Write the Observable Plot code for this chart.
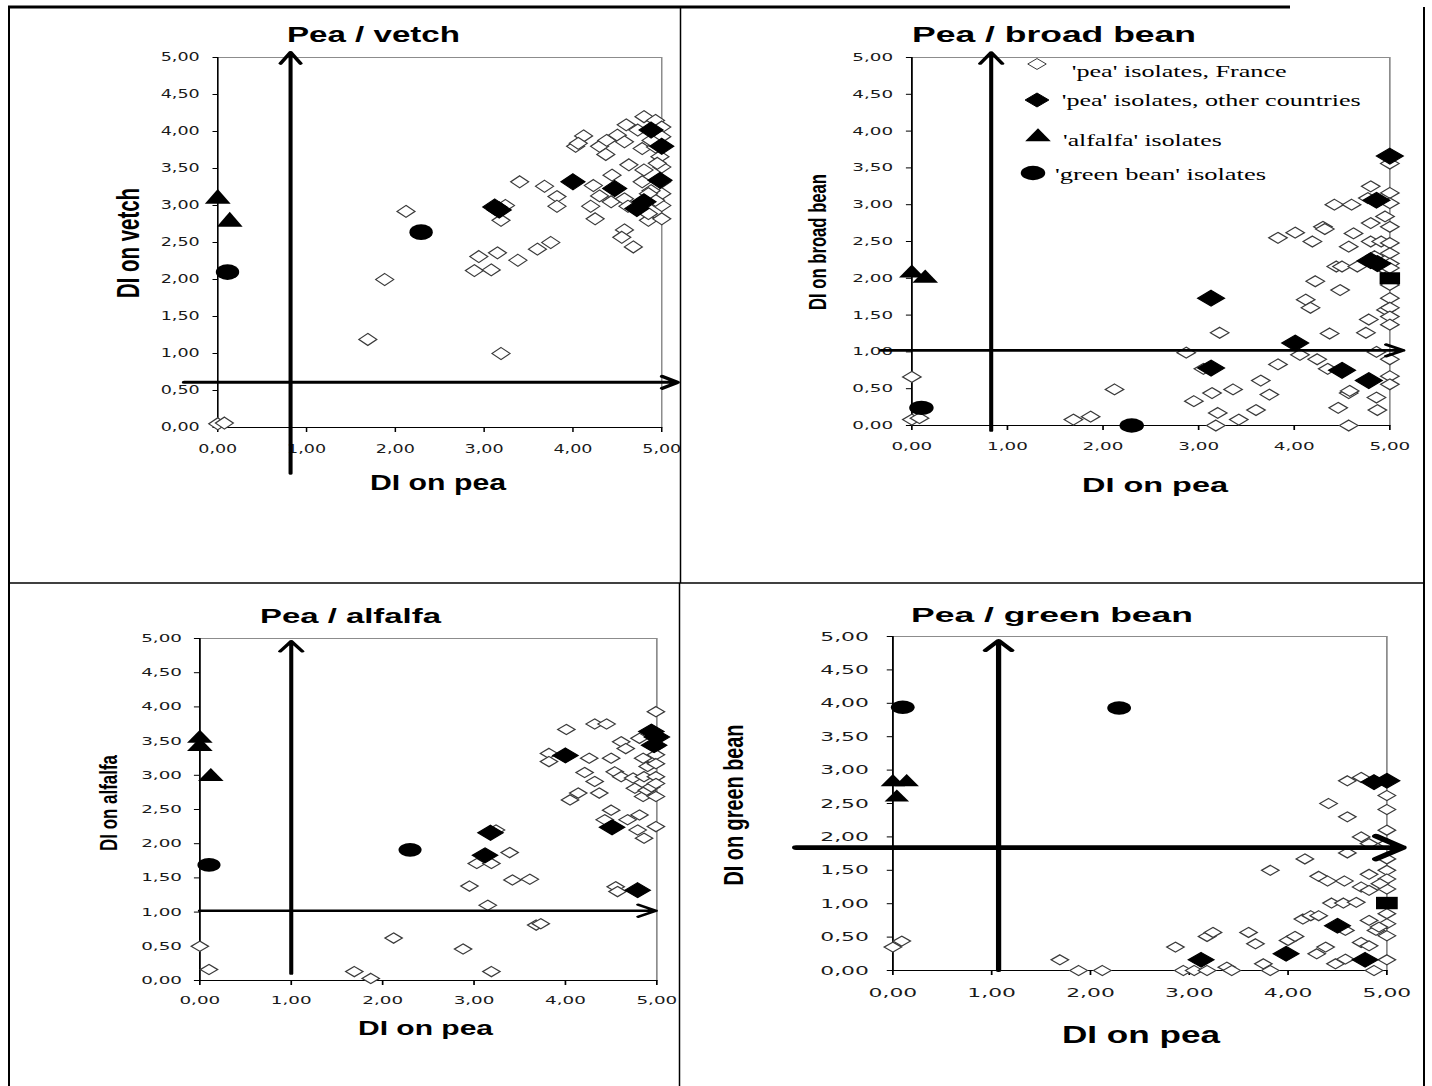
<!DOCTYPE html>
<html><head><meta charset="utf-8">
<script src="https://cdn.jsdelivr.net/npm/d3@7"></script>
<script src="https://cdn.jsdelivr.net/npm/@observablehq/plot@0.6"></script>
<style>
html,body{margin:0;padding:0;background:#fff;}
#page{position:relative;width:1432px;height:1086px;overflow:hidden;background:#fff;}
.quad{position:absolute;transform-origin:0 0;}
#overlay{position:absolute;left:0;top:0;pointer-events:none;}
</style></head><body><div id="page"></div>
<script>
// ---------- tick values and labels ----------
const xTicks = [0, 1, 2, 3, 4, 5];
const xTickLabels = ["0,00", "1,00", "2,00", "3,00", "4,00", "5,00"];
const yTicks = [0, 0.5, 1, 1.5, 2, 2.5, 3, 3.5, 4, 4.5, 5];
const yTickLabels = ["0,00", "0,50", "1,00", "1,50", "2,00", "2,50", "3,00", "3,50", "4,00", "4,50", "5,00"];

// ---------- texts ----------
const titles = ["Pea / vetch", "Pea / broad bean", "Pea / alfalfa", "Pea / green bean"];
const yLabels = ["DI on vetch", "DI on broad bean", "DI on alfalfa", "DI on green bean"];
const xLabel = "DI on pea";
const legendLabels = ["'pea' isolates, France", "'pea' isolates, other countries", "'alfalfa' isolates", "'green bean' isolates"];

// ---------- Panel 1: pea / vetch  [DI on pea, DI on vetch] ----------
const vetchFrance = [[0,0.05],[0.075,0.06],[1.69,1.19],[3.19,1.0],[1.88,2.0],[2.12,2.92],[2.89,2.12],[2.94,2.31],[3.08,2.13],[3.15,2.36],[3.38,2.26],[3.6,2.41],[3.75,2.5],[3.19,2.8],[3.24,3.0],[3.4,3.32],[3.68,3.26],[3.82,3.12],[3.82,2.99],[4.03,3.8],[4.12,3.94],[4.06,3.84],[4.2,2.99],[4.25,2.82],[4.23,3.27],[4.3,3.8],[4.38,3.88],[4.37,3.69],[4.3,3.13],[4.44,3.41],[4.43,3.05],[4.5,3.95],[4.58,3.86],[4.6,4.09],[4.63,3.55],[4.58,3.09],[4.62,2.99],[4.58,2.67],[4.55,2.57],[4.68,2.44],[4.73,4.02],[4.8,4.2],[4.78,3.77],[4.8,3.48],[4.78,3.32],[4.85,2.8],[4.85,2.89],[4.93,4.15],[5,4.06],[5,3.93],[4.98,3.66],[5,3.52],[5,3.32],[5,3.16],[5,3.0],[5,2.82],[4.93,3.07],[4.88,3.2],[4.95,3.57],[4.93,3.79],[4.88,3.88],[5,3.79],[4.85,3.16]];
const vetchOther = [[3.12,2.98],[3.17,2.94],[4.0,3.32],[4.47,3.23],[4.72,2.96],[4.8,3.05],[4.88,4.02],[5.0,3.8],[4.98,3.34]];
const vetchSquare = [];
const vetchAlfalfa = [[0,3.09],[0.135,2.78]];
const vetchGreen = [[0.11,2.10],[2.29,2.64]];
const vetchArrows = [[0.82,-0.62,0.82,5.07],[-0.38,0.61,5.18,0.61]];

// ---------- Panel 2: pea / broad bean ----------
const bbFrance = [[0,0.66],[0,0.08],[0.08,0.1],[1.69,0.08],[1.87,0.12],[2.12,0.49],[2.87,0.99],[2.95,0.33],[3.05,0.77],[3.14,0.44],[3.22,1.26],[3.2,0.17],[3.18,0],[3.36,0.49],[3.42,0.08],[3.6,0.21],[3.65,0.61],[3.74,0.42],[3.83,0.83],[3.83,2.55],[4.01,2.62],[4.06,0.96],[4.12,1.71],[4.17,1.6],[4.19,2.5],[4.22,1.96],[4.24,0.9],[4.3,2.7],[4.32,2.67],[4.37,1.25],[4.35,0.77],[4.42,3.0],[4.44,2.16],[4.48,1.84],[4.46,0.24],[4.5,2.16],[4.57,0],[4.57,0.44],[4.58,0.47],[4.6,3.0],[4.62,2.61],[4.66,2.16],[4.57,2.43],[4.75,1.26],[4.78,1.44],[4.8,3.25],[4.8,2.75],[4.8,2.5],[4.77,3.09],[4.86,0.38],[4.87,0.21],[4.86,1.0],[4.84,2.3],[4.91,2.5],[4.93,2.14],[4.95,2.84],[4.96,1.57],[5,3.56],[5,3.16],[5,3.02],[5,2.7],[5,2.48],[5,2.34],[5,2.2],[5,2.14],[5,1.91],[5,1.73],[5,1.6],[5,1.48],[5,1.37],[5,0.9],[5,0.67],[5,0.56]];
const bbOther = [[5,3.66],[4.86,3.06],[4.8,2.24],[4.87,2.2],[3.13,1.73],[4.01,1.12],[3.13,0.78],[4.5,0.75],[4.78,0.61]];
const bbSquare = [[5,2.0]];
const bbAlfalfa = [[0,2.07],[0.14,2.0]];
const bbGreen = [[0.1,0.24],[2.3,0]];
const bbArrows = [[0.83,-0.07,0.83,5.07],[-0.32,1.02,5.14,1.02]];

// ---------- Panel 3: pea / alfalfa ----------
const alFrance = [[0,0.5],[0.1,0.16],[1.69,0.13],[1.87,0.03],[2.12,0.62],[2.88,0.46],[2.95,1.38],[3.03,1.71],[3.19,1.71],[3.24,2.2],[3.15,1.1],[3.19,0.13],[3.39,1.87],[3.42,1.47],[3.61,1.48],[3.68,0.81],[3.73,0.83],[3.82,3.32],[3.82,3.2],[4.01,3.67],[4.05,2.64],[4.14,2.74],[4.21,3.04],[4.26,3.25],[4.32,3.75],[4.32,2.91],[4.37,2.74],[4.45,3.75],[4.5,3.25],[4.5,2.49],[4.54,3.05],[4.61,2.98],[4.43,2.35],[4.68,2.35],[4.61,3.49],[4.66,3.39],[4.74,2.96],[4.76,2.81],[4.81,2.42],[4.79,2.2],[4.86,2.08],[4.55,1.37],[4.57,1.3],[4.81,3.54],[4.85,3.25],[4.86,2.98],[4.85,2.69],[4.89,2.78],[4.9,3.13],[4.94,2.83],[4.99,3.93],[4.99,3.42],[4.99,3.3],[4.99,3.17],[4.99,2.98],[4.99,2.88],[4.99,2.69],[4.99,2.25]];
const alOther = [[3.18,2.16],[3.12,1.83],[4.0,3.29],[4.51,2.24],[4.79,1.32],[4.94,3.64],[4.97,3.44],[5,3.56]];
const alSquare = [];
const alAlfalfa = [[0,3.54],[0,3.42],[0.12,2.98]];
const alGreen = [[0.1,1.69],[2.3,1.91]];
const alArrows = [[1.0,0.1,1.0,4.96],[0,1.02,4.99,1.02]];

// ---------- Panel 4: pea / green bean ----------
const gbFrance = [[0,0.35],[0.09,0.44],[1.69,0.16],[1.88,0],[2.12,0],[2.86,0.35],[2.94,0],[3.05,0],[3.18,0.51],[3.24,0.57],[3.18,0],[3.38,0.05],[3.43,0],[3.6,0.57],[3.67,0.4],[3.75,0.1],[3.82,0],[3.82,1.5],[4.0,0.45],[4.07,0.51],[4.17,1.67],[4.15,0.77],[4.23,0.82],[4.31,0.82],[4.31,1.41],[4.4,1.34],[4.57,1.34],[4.29,0.25],[4.38,0.35],[4.44,1.01],[4.41,2.5],[4.48,0.1],[4.58,0.17],[4.58,0.6],[4.6,2.3],[4.6,1.76],[4.56,1.01],[4.6,2.84],[4.74,2.89],[4.74,2.0],[4.82,1.9],[4.69,1.02],[4.82,1.44],[4.74,1.25],[4.82,1.2],[4.74,0.42],[4.82,0.37],[4.82,0.75],[4.87,0],[4.89,0.6],[5,2.62],[5,2.41],[5,2.1],[5,1.9],[5,1.67],[5,1.5],[5,1.37],[5,1.22],[5,0.85],[5,0.7],[5,0.52],[5,0.16],[4.93,1.3],[4.92,0.65]];
const gbOther = [[4.87,2.82],[5,2.84],[4.5,0.67],[3.12,0.16],[3.98,0.25],[4.78,0.16]];
const gbSquare = [[5,1.01]];
const gbAlfalfa = [[0,2.82],[0.14,2.82],[0.04,2.59]];
const gbGreen = [[0.1,3.94],[2.29,3.93]];
const gbArrows = [[1.07,0,1.07,4.94],[-0.98,1.84,5.16,1.84]];

// ---------- layout (page pixels) ----------
const panels = [
  {series:[vetchFrance,vetchOther,vetchSquare,vetchAlfalfa,vetchGreen], arrows:vetchArrows,
   left:10, top:9, w:669, h:573, S:1.5, ml:207, mr:18, mt:48, mb:155,
   tickFont:11.7, yPad:9, xPad:12.5, r:[5.4,7.2,7,6.4,7.8],
   vArrow:{sw:2.7, wing:13, angle:62}, hArrow:{sw:3, wing:12, angle:60}},
  {series:[bbFrance,bbOther,bbSquare,bbAlfalfa,bbGreen], arrows:bbArrows,
   left:682, top:9, w:741, h:573, S:1.7, ml:229, mr:34, mt:48, mb:157,
   tickFont:10.8, yPad:8, xPad:11.5, r:[4.9,7.1,6.8,5.6,7.2],
   vArrow:{sw:2.4, wing:13, angle:60}, hArrow:{sw:2.7, wing:11.5, angle:60}},
  {series:[alFrance,alOther,alSquare,alAlfalfa,alGreen], arrows:alArrows,
   left:10, top:585, w:668, h:500, S:1.7, ml:189, mr:22, mt:53, mb:105,
   tickFont:10.8, yPad:7.5, xPad:11, r:[4.6,6.7,6.8,5.6,6.8],
   vArrow:{sw:2.4, wing:12, angle:66}, hArrow:{sw:2.4, wing:12, angle:60}},
  {series:[gbFrance,gbOther,gbSquare,gbAlfalfa,gbGreen], arrows:gbArrows,
   left:681, top:585, w:742, h:500, S:1.75, ml:211, mr:37, mt:51, mb:115,
   tickFont:12.5, yPad:10.7, xPad:12.5, r:[4.5,6.6,7,5.2,6.8],
   vArrow:{sw:3, wing:12.5, angle:74}, hArrow:{sw:4.6, wing:19, angle:74}}
];

const page = document.getElementById("page");
const fmtX = d => xTickLabels[xTicks.indexOf(d)];
const fmtY = d => yTickLabels[yTicks.indexOf(d)];
const P = {x: d => d[0], y: d => d[1]};
const A = {x1: d => d[0], y1: d => d[1], x2: d => d[2], y2: d => d[3], stroke: "#000"};

panels.forEach(p => {
  const S = p.S;
  const [france, other, square, alfalfa, green] = p.series;
  const w = p.w / S;
  const plot = Plot.plot({
    width: w, height: p.h,
    marginLeft: p.ml / S, marginRight: p.mr / S, marginTop: p.mt, marginBottom: p.mb,
    x: {domain: [0, 5]}, y: {domain: [0, 5]},
    style: {background: "transparent", fontFamily: "'DejaVu Sans', sans-serif", fontSize: p.tickFont + "px", color: "#1a1a1a", overflow: "visible"},
    marks: [
      Plot.frame({stroke: "#8c8c8c", strokeWidth: 1}),
      Plot.ruleX([0], {stroke: "#000", strokeWidth: 1}),
      Plot.ruleY([0], {stroke: "#000", strokeWidth: 1}),
      Plot.axisY({ticks: yTicks, tickFormat: fmtY, tickSize: 3, tickPadding: p.yPad, label: null, stroke: "#000", fill: "#1a1a1a"}),
      Plot.axisX({ticks: xTicks, tickFormat: fmtX, tickSize: 5, tickPadding: p.xPad, label: null, stroke: "#000", fill: "#1a1a1a"}),
      Plot.dot(france, {...P, symbol: "diamond2", r: p.r[0], stroke: "#3a3a3a", fill: "#fff", strokeWidth: 1}),
      Plot.dot(other, {...P, symbol: "diamond2", r: p.r[1], fill: "#000", stroke: "#000", strokeWidth: 1}),
      Plot.dot(square, {...P, symbol: "square", r: p.r[2], fill: "#000"}),
      Plot.dot(alfalfa, {...P, symbol: "triangle", r: p.r[3], fill: "#000"}),
      Plot.dot(green, {...P, symbol: "circle", r: p.r[4], fill: "#000"}),
      Plot.arrow([p.arrows[0]], {...A, strokeWidth: p.vArrow.sw, headLength: p.vArrow.wing * 1.5 / p.vArrow.sw, headAngle: p.vArrow.angle}),
      Plot.arrow([p.arrows[1]], {...A, strokeWidth: p.hArrow.sw, headLength: p.hArrow.wing * 1.5 / p.hArrow.sw, headAngle: p.hArrow.angle})
    ]
  });
  const div = document.createElement("div");
  div.className = "quad";
  div.style.left = p.left + "px";
  div.style.top = p.top + "px";
  div.style.width = w + "px";
  div.style.height = p.h + "px";
  div.style.transform = `scaleX(${S})`;
  div.appendChild(plot);
  page.appendChild(div);
});

// ---------- overlay: frame lines, titles, axis labels, legend ----------
const ov = d3.select(page).append("svg").attr("id", "overlay").attr("width", 1432).attr("height", 1086);

const borders = [
  [8, 7, 1290, 7, 3], [9, 6, 9, 1086, 2], [680.5, 7, 680.5, 583, 1.5], [679.5, 583, 679.5, 1086, 1.5],
  [1424, 7, 1424, 1086, 2], [9, 583, 1424, 583, 1.5]
];
ov.selectAll("line.b").data(borders).join("line").attr("class", "b")
  .attr("x1", d => d[0]).attr("y1", d => d[1]).attr("x2", d => d[2]).attr("y2", d => d[3])
  .attr("stroke", "#000").attr("stroke-width", d => d[4]);

function txt(s, o) {
  const t = ov.append("text").text(s)
    .attr("font-family", o.family || "'Liberation Sans', Arial, sans-serif")
    .attr("font-weight", o.weight || "bold")
    .attr("font-size", o.size)
    .attr("text-anchor", o.anchor || "middle")
    .attr("fill", "#000")
    .attr("textLength", o.len).attr("lengthAdjust", "spacingAndGlyphs");
  if (o.rotate) t.attr("transform", `translate(${o.x},${o.y}) rotate(-90)`);
  else t.attr("x", o.x).attr("y", o.y);
  return t;
}

// titles (center x, baseline y, font size, width)
const titlePos = [[373.5, 41.5, 22, 173], [1054, 42, 22, 284], [350.5, 623, 21, 181], [1052, 622, 20.5, 282]];
titles.forEach((s, i) => { const [x, y, f, l] = titlePos[i]; txt(s, {x, y, size: f, len: l}); });

// x labels
const xLabPos = [[438, 490, 22, 136], [1155, 492, 20, 146], [425.5, 1035, 21, 135], [1141, 1043, 23, 158]];
xLabPos.forEach(([x, y, f, l]) => txt(xLabel, {x, y, size: f, len: l}));

// y labels (baseline x, center y, font size, length)
const yLabPos = [[139, 243, 31, 110], [826, 242, 23.7, 136], [116.5, 803, 23.3, 96], [743, 805, 28, 161]];
yLabels.forEach((s, i) => { const [x, y, f, l] = yLabPos[i]; txt(s, {x, y, size: f, len: l, rotate: true}); });

// legend (panel 2)
const legPos = [[1071.7, 77, 215], [1061.7, 105.7, 299], [1063, 145.7, 158.7], [1055, 180, 211]];
legendLabels.forEach((s, i) => {
  const [x, y, l] = legPos[i];
  txt(s, {x, y, size: 16, len: l, anchor: "start", weight: "normal", family: "'Liberation Serif', 'Times New Roman', serif"});
});
const legSym = [
  {x: 1037, y: 64, type: d3.symbolDiamond2, r: 4.9, fill: "#fff", stroke: "#3a3a3a"},
  {x: 1037, y: 100, type: d3.symbolDiamond2, r: 6.3, fill: "#000", stroke: "#000"},
  {x: 1038, y: 137, type: d3.symbolTriangle, r: 5.6, fill: "#000", stroke: "none"},
  {x: 1033, y: 173, type: d3.symbolCircle, r: 7.2, fill: "#000", stroke: "none"}
];
legSym.forEach(s => {
  ov.append("path")
    .attr("d", d3.symbol(s.type, Math.PI * s.r * s.r)())
    .attr("transform", `translate(${s.x},${s.y}) scale(1.7,1)`)
    .attr("fill", s.fill).attr("stroke", s.stroke).attr("stroke-width", 1)
    .attr("vector-effect", "non-scaling-stroke");
});
</script></body></html>
